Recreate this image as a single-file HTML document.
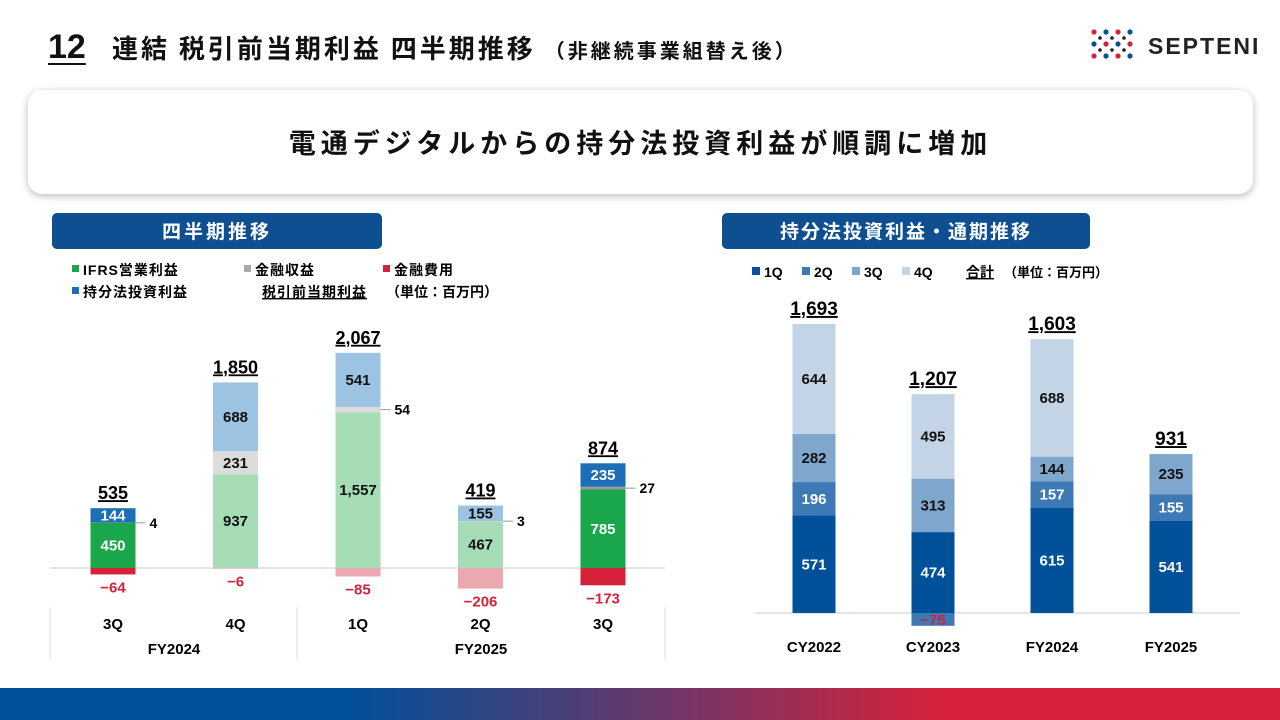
<!DOCTYPE html>
<html><head><meta charset="utf-8">
<style>
*{margin:0;padding:0;box-sizing:border-box}
body{width:1280px;height:720px;background:#fff;position:relative;overflow:hidden;font-family:"Liberation Sans","Noto Sans CJK JP",sans-serif;color:#111}
.abs{position:absolute}
</style></head><body>
<div class="abs" style="left:48px;top:28px;font-size:34px;font-weight:bold;text-decoration:underline;text-underline-offset:5px;text-decoration-thickness:2px">12</div>
<div class="abs" style="left:112px;top:30px;font-size:26px;font-weight:bold;font-family:'Noto Sans CJK JP',sans-serif;line-height:36px;letter-spacing:3px;white-space:nowrap">連結 税引前当期利益 四半期推移 <span style="font-size:20px;letter-spacing:3px">（非継続事業組替え後）</span></div>
<svg class="abs" style="left:1088px;top:28px" width="180" height="36">
<g>
<circle cx="6" cy="4" r="2.6" fill="#d7203a"/><circle cx="18" cy="4" r="2.6" fill="#00509a"/><circle cx="30" cy="4" r="2.6" fill="#d7203a"/><circle cx="42" cy="4" r="2.6" fill="#00509a"/>
<circle cx="12" cy="10" r="1.8" fill="#222"/><circle cx="24" cy="10" r="1.8" fill="#222"/><circle cx="36" cy="10" r="1.8" fill="#222"/>
<circle cx="6" cy="16" r="2.6" fill="#00509a"/><circle cx="18" cy="16" r="2.6" fill="#d7203a"/><circle cx="30" cy="16" r="2.6" fill="#00509a"/><circle cx="42" cy="16" r="2.6" fill="#d7203a"/>
<circle cx="12" cy="22" r="1.8" fill="#222"/><circle cx="24" cy="22" r="1.8" fill="#222"/><circle cx="36" cy="22" r="1.8" fill="#222"/>
<circle cx="6" cy="28" r="2.6" fill="#d7203a"/><circle cx="18" cy="28" r="2.6" fill="#00509a"/><circle cx="30" cy="28" r="2.6" fill="#d7203a"/><circle cx="42" cy="28" r="2.6" fill="#00509a"/>
</g>
<text x="60" y="26" font-size="23" font-weight="bold" font-family="Liberation Sans" letter-spacing="2" fill="#222">SEPTENI</text>
</svg>
<div class="abs" style="left:28px;top:90px;width:1225px;height:104px;border-radius:14px;background:#fff;box-shadow:0 2px 8px rgba(0,0,0,0.28);text-align:center;font-size:27px;font-weight:bold;line-height:104px;font-family:'Noto Sans CJK JP',sans-serif;letter-spacing:5px">電通デジタルからの持分法投資利益が順調に増加</div>
<div class="abs" style="left:52px;top:213px;width:330px;height:36px;border-radius:5px;background:#0d4f91;color:#fff;text-align:center;font-size:19px;font-weight:bold;line-height:36px;font-family:'Noto Sans CJK JP',sans-serif;letter-spacing:3px">四半期推移</div>
<div class="abs" style="left:722px;top:213px;width:368px;height:36px;border-radius:5px;background:#0d4f91;color:#fff;text-align:center;font-size:19px;font-weight:bold;line-height:36px;font-family:'Noto Sans CJK JP',sans-serif;letter-spacing:2px">持分法投資利益・通期推移</div>
<div class="abs" style="left:0;top:688px;width:1280px;height:32px;background:linear-gradient(90deg,#00509a 0%,#00509a 27%,#5a3b70 48%,#d9213b 74%,#d9213b 100%)"></div>

<svg id="left" class="abs" style="left:0;top:0" width="680" height="680" font-family="Liberation Sans,Noto Sans CJK JP,sans-serif"></svg>
<svg id="right" class="abs" style="left:700px;top:0" width="580" height="680" font-family="Liberation Sans,Noto Sans CJK JP,sans-serif"></svg>

<script>
const qCats=['3Q','4Q','1Q','2Q','3Q'];
const qIfrs=[450,937,1557,467,785];
const qFinInc=[4,231,54,3,27];
const qEquity=[144,688,541,155,235];
const qFinExp=[-64,-6,-85,-206,-173];
const qTotals=['535','1,850','2,067','419','874'];
const qHighlight=[true,false,false,false,true];

const yCats=['CY2022','CY2023','FY2024','FY2025'];
const y1Q=[571,474,615,541];
const y2Q=[196,-75,157,155];
const y3Q=[282,313,144,235];
const y4Q=[644,495,688,0];
const yTotals=['1,693','1,207','1,603','931'];

const NS='http://www.w3.org/2000/svg';
function mk(svg,tag,attrs,text){const e=document.createElementNS(NS,tag);for(const k in attrs)e.setAttribute(k,attrs[k]);if(text!==undefined)e.textContent=text;svg.appendChild(e);return e;}

// LEFT
(function(){
const s=document.getElementById('left');
const base=568,sc=0.1,bw=45;
const xq=i=>113+i*122.5;
const yv=v=>v*sc;
const leg=[[72,263,'#1aa64a','IFRS営業利益'],[244,263,'#aaa','金融収益'],[383,263,'#d7203a','金融費用'],[72,285,'#1d6fb5','持分法投資利益']];
leg.forEach(l=>{let r=mk(s,'rect',{x:l[0],y:l[1]+2,width:7,height:7,fill:l[2]});

let t=mk(s,'text',{x:l[0]+11,y:l[1]+12,'font-size':14,'font-weight':'bold','letter-spacing':1},l[3]);
});
let lt=mk(s,'text',{x:262,y:297,'font-size':14,'font-weight':'bold','text-decoration':'underline','letter-spacing':1},'税引前当期利益');

let un=mk(s,'text',{x:386,y:297,'font-size':14,'font-weight':'bold'},'（単位：百万円）');

let bl=mk(s,'line',{x1:50,x2:665,y1:base,y2:base,stroke:'#ddd','stroke-width':1.5});

[50,297,665].forEach(x=>{let l=mk(s,'line',{x1:x,x2:x,y1:607,y2:660,stroke:'#ddd','stroke-width':1});
});
qCats.forEach((c,i)=>{
 const x=xq(i),hl=qHighlight[i];
 const cols=hl?['#1aa64a','#9a9a9a','#1d6fb5','#d7203a']:['#a6dcb6','#dcdcdc','#9cc4e2','#eca8b0'];
 let y=base;
 const segs=[[qIfrs[i],cols[0],'bar-ifrs'],[qFinInc[i],cols[1],'bar-financial-income'],[qEquity[i],cols[2],'bar-equity']];
 segs.forEach((sg,k)=>{const h=yv(sg[0]);y-=h;
  let r=mk(s,'rect',{x:x-bw/2,y:y,width:bw,height:h,fill:sg[1]});
  
  if(k===1 && sg[0]<100){
   let ln=mk(s,'line',{x1:x+bw/2,x2:x+bw/2+10,y1:y+h/2,y2:y+h/2,stroke:'#999'});
   
   let t=mk(s,'text',{x:x+bw/2+14,y:y+h/2+5,'font-size':14,'font-weight':'bold'},sg[0]);
   
  } else {
   let t=mk(s,'text',{x:x,y:y+h/2+5,'font-size':15,'font-weight':'bold','text-anchor':'middle',fill:(hl?'#fff':'#111')},sg[0].toLocaleString('en-US'));
   
  }
 });
 const top=y;
 const nh=yv(-qFinExp[i]);
 let nr=mk(s,'rect',{x:x-bw/2,y:base,width:bw,height:nh,fill:cols[3]});
 
 let nt=mk(s,'text',{x:x,y:base+nh+18,'font-size':15,'font-weight':'bold','text-anchor':'middle',fill:'#d7203a'},'−'+(-qFinExp[i]));
 
 let tt=mk(s,'text',{x:x,y:top-9,'font-size':18,'font-weight':'bold','text-anchor':'middle','text-decoration':'underline'},qTotals[i]);
 
 let ct=mk(s,'text',{x:x,y:629,'font-size':15,'font-weight':'bold','text-anchor':'middle'},c);
 
});
let f1=mk(s,'text',{x:174,y:654,'font-size':15,'font-weight':'bold','text-anchor':'middle'},'FY2024');

let f2=mk(s,'text',{x:481,y:654,'font-size':15,'font-weight':'bold','text-anchor':'middle'},'FY2025');

})();

// RIGHT
(function(){
const s=document.getElementById('right');
const base=613,sc=0.1707,bw=43;
const xq=i=>114+i*119;
const yv=v=>v*sc;
const cols=['#00509a','#3d7ab5','#7fa6cc','#c2d4e6'];
const labs=['1Q','2Q','3Q','4Q'];
labs.forEach((l,k)=>{let r=mk(s,'rect',{x:52+k*50,y:267,width:8,height:8,fill:cols[k]});

let t=mk(s,'text',{x:64+k*50,y:277,'font-size':14,'font-weight':'bold'},l);
});
let gt=mk(s,'text',{x:266,y:277,'font-size':14,'font-weight':'bold','text-decoration':'underline'},'合計');

let un=mk(s,'text',{x:304,y:277,'font-size':13,'font-weight':'bold'},'（単位：百万円）');

let bl=mk(s,'line',{x1:55,x2:540,y1:base,y2:base,stroke:'#ddd','stroke-width':1.5});

const series=[y1Q,y2Q,y3Q,y4Q];
yCats.forEach((c,i)=>{
 const x=xq(i);let y=base;
 series.forEach((ser,k)=>{const v=ser[i];if(!v)return;
  if(v<0){const h=yv(-v);
   let r=mk(s,'rect',{x:x-bw/2,y:base,width:bw,height:h,fill:cols[k]});
   
   let t=mk(s,'text',{x:x,y:base+h-1,'font-size':15,'font-weight':'bold','text-anchor':'middle',fill:'#d7203a'},'−'+(-v));
   
   return;}
  const h=yv(v);y-=h;
  let r=mk(s,'rect',{x:x-bw/2,y:y,width:bw,height:h,fill:cols[k]});
  
  let t=mk(s,'text',{x:x,y:y+h/2+5,'font-size':15,'font-weight':'bold','text-anchor':'middle',fill:(k<2?'#fff':'#111')},v);
  
 });
 let tt=mk(s,'text',{x:x,y:y-9,'font-size':19,'font-weight':'bold','text-anchor':'middle','text-decoration':'underline'},yTotals[i]);
 
 let ct=mk(s,'text',{x:x,y:652,'font-size':15,'font-weight':'bold','text-anchor':'middle'},c);
 
});
})();
</script>
</body></html>
